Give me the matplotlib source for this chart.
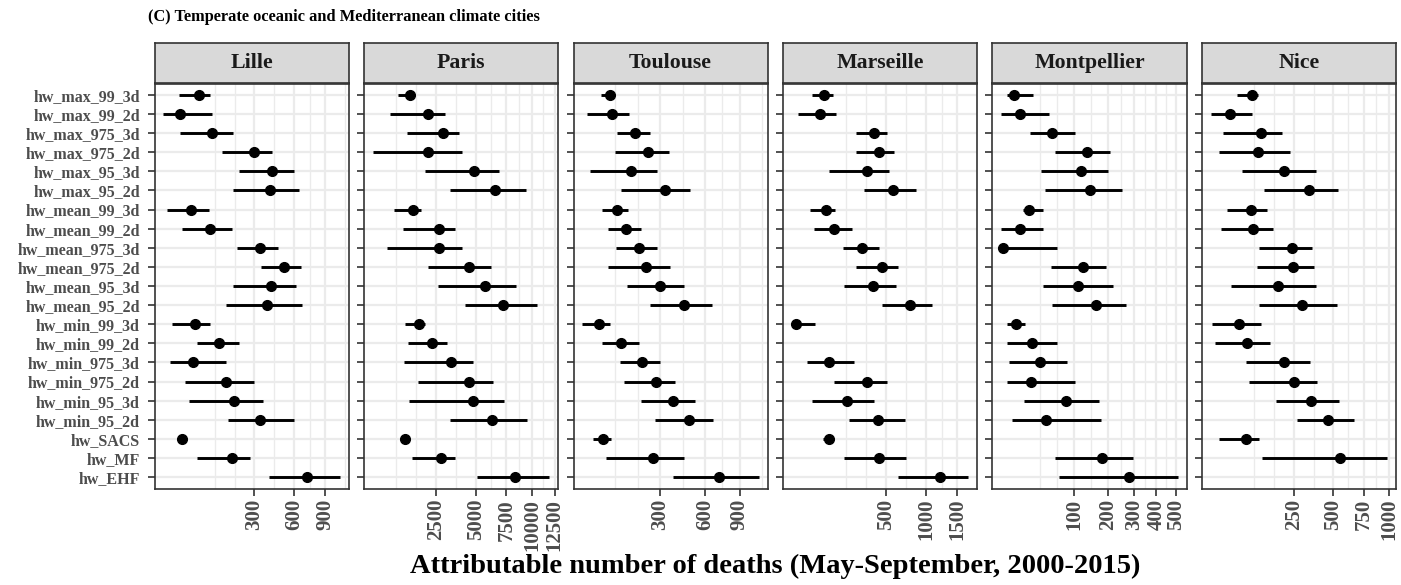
import numpy as np
import matplotlib.pyplot as plt

indicators = ['hw_max_99_3d', 'hw_max_99_2d', 'hw_max_975_3d', 'hw_max_975_2d',
              'hw_max_95_3d', 'hw_max_95_2d', 'hw_mean_99_3d', 'hw_mean_99_2d',
              'hw_mean_975_3d', 'hw_mean_975_2d', 'hw_mean_95_3d', 'hw_mean_95_2d',
              'hw_min_99_3d', 'hw_min_99_2d', 'hw_min_975_3d', 'hw_min_975_2d',
              'hw_min_95_3d', 'hw_min_95_2d', 'hw_SACS', 'hw_MF', 'hw_EHF']
cities = ['Lille', 'Paris', 'Toulouse', 'Marseille', 'Montpellier', 'Nice']
nan = float('nan')

# estimates and 95% CI
lille_est = [54, 15, 93, 294, 417, 402, 34, 86, 336, 509, 412, 381,
             45, 121, 40, 150, 186, 338, 18, 176, 711]
lille_lo = [14.5, 0.9, 15, 132, 211, 183, 2.8, 18, 201, 340, 183, 149,
            6.2, 48, 4.9, 24, 30, 156, 13, 48, 400]
lille_hi = [86, 93, 181, 417, 593, 643, 84, 176, 462, 655, 610, 670,
            87, 209, 147, 294, 356, 598, 23, 272, 1064]

paris_est = [1347, 2103, 2876, 2103, 4857, 6547, 1437, 2640, 2640, 4549, 5710, 7206,
             1711, 2297, 3358, 4525, 4809, 6298, 1163, 2784, 8269]
paris_lo = [929, 685, 1211, 295, 1978, 3258, 788, 1094, 597, 2103, 2622, 4251,
            1152, 1272, 1117, 1654, 1309, 3298, 1073, 1411, 5125]
paris_hi = [1503, 2988, 3812, 4051, 6830, 9405, 1798, 3602, 4051, 6189, 8395, 10507,
            1963, 3083, 4809, 6381, 7294, 9438, 1255, 3602, 11858]

toulouse_est = [86, 93, 176, 234, 162, 330, 109, 139, 195, 227, 298, 445,
                58, 124, 209, 276, 378, 480, 66, 264, 716]
toulouse_lo = [61, 31, 110, 101, 37, 123, 64, 80, 105, 80, 143, 245,
               24, 64, 118, 135, 204, 273, 43, 75, 378]
toulouse_hi = [98, 154, 244, 348, 285, 487, 150, 204, 284, 354, 443, 651,
               87, 193, 298, 389, 523, 660, 89, 443, 1091]

marseille_est = [67, 50, 388, 428, 325, 570, 72, 110, 282, 457, 379, 780,
                 2.5, nan, 87, 322, 179, 418, 84, 434, 1209]
marseille_lo = [28, 4.4, 236, 236, 86, 300, 25, 34, 155, 240, 159, 457,
                0.5, nan, 18, 108, 28, 193, 62, 161, 634]
marseille_hi = [103, 118, 514, 589, 535, 849, 115, 213, 431, 634, 607, 1081,
                37, nan, 226, 514, 388, 713, 102, 729, 1701]

montpellier_est = [7.2, 12, 54, 135, 117, 142, 20.6, 11.5, 1.9, 123, 110, 160,
                   8.4, 23.7, 34.7, 22.5, 82, 43, nan, 180, 279]
montpellier_lo = [3.2, 1.3, 21, 59, 35, 41, 14.7, 1.3, 1.5, 52, 39, 54,
                  3.2, 3.3, 4.3, 3.2, 15.4, 6.2, nan, 59, 66]
montpellier_hi = [25, 48, 103, 208, 200, 250, 38, 38, 62, 191, 216, 267,
                  16.4, 63, 83, 102, 170, 176, nan, 293, 511]

nice_est = [78, 27, 107, 98, 200, 333, 77, 83, 243, 248, 176, 297,
            45, 65, 202, 253, 351, 464, 62, 553, nan]
nice_lo = [41, 4.2, 16.6, 11.7, 53, 119, 22, 14, 101, 94, 29, 101,
           5.4, 7.6, 61, 70, 165, 268, 11.7, 112, nan]
nice_hi = [96, 80, 194, 231, 383, 538, 129, 151, 353, 370, 383, 525,
           107, 140, 339, 389, 543, 665, 101, 979, nan]

city_ticks = [[300, 600, 900],
              [2500, 5000, 7500, 10000, 12500],
              [300, 600, 900],
              [500, 1000, 1500],
              [100, 200, 300, 400, 500],
              [250, 500, 750, 1000]]

est_all = [lille_est, paris_est, toulouse_est, marseille_est, montpellier_est, nice_est]
lo_all = [lille_lo, paris_lo, toulouse_lo, marseille_lo, montpellier_lo, nice_lo]
hi_all = [lille_hi, paris_hi, toulouse_hi, marseille_hi, montpellier_hi, nice_hi]


def fwd(x):
    x = np.asarray(x, dtype=float)
    return np.sign(x) * np.sqrt(np.abs(x))


def inv(y):
    y = np.asarray(y, dtype=float)
    return np.sign(y) * y ** 2


def gg_minor(major, lims):
    # ggplot2 style minor breaks, in sqrt space
    b = list(fwd(major))
    bd = b[1] - b[0]
    if lims[0] < b[0]:
        b = [b[0] - bd] + b
    if lims[1] > b[-1]:
        b = b + [b[-1] + bd]
    out = []
    for a, c in zip(b[:-1], b[1:]):
        out += [a, (a + c) / 2]
    out.append(b[-1])
    out = [v for v in out if lims[0] <= v <= lims[1]]
    return inv(out)


W, H = 1401, 585
fig = plt.figure(figsize=(W / 100, H / 100), dpi=100)
serif = 'Liberation Serif'
grid_c = '#EBEBEB'
edge_c = '#333333'

panel_left = [154.5, 364, 573.5, 783, 992.5, 1202]
pw = 194
top, bottom = 83.5, 488.5
strip_top = 43
yy = np.arange(len(indicators))

for i, city in enumerate(cities):
    l = panel_left[i]
    ax = fig.add_axes([l / W, 1 - bottom / H, pw / W, (bottom - top) / H])
    ax.set_xscale('function', functions=(fwd, inv))
    est = np.array(est_all[i], dtype=float)
    lo = np.array(lo_all[i], dtype=float)
    hi = np.array(hi_all[i], dtype=float)
    ax.hlines(yy, lo, hi, color='black', lw=2.1, zorder=3)
    ax.plot(est, yy, 'o', ms=7, color='black', zorder=4)

    s = fwd(np.concatenate([est, lo, hi]))
    s = s[~np.isnan(s)]
    pad = 0.05 * (s.max() - s.min())
    lims = (s.min() - pad, s.max() + pad)

    ax.set_xticks(city_ticks[i])
    ax.set_xticklabels([str(t) for t in city_ticks[i]], rotation=90,
                       fontfamily=serif, fontweight='bold', fontsize=15, color='#4D4D4D')
    ax.set_xticks(gg_minor(city_ticks[i], lims), minor=True)
    ax.set_yticks(yy)
    if i == 0:
        ax.set_yticklabels(indicators, fontfamily=serif, fontweight='bold',
                           fontsize=11.5, color='#4D4D4D')
        ax.tick_params(axis='y', pad=5.5)
    else:
        ax.set_yticklabels([])
        ax.tick_params(axis='y', length=0)
    # limits set after the ticks so they are not widened
    ax.set_xlim(float(inv(lims[0])), float(inv(lims[1])))
    ax.set_ylim(len(indicators) - 0.4, -0.6)

    ax.grid(which='major', color=grid_c, lw=1.6, zorder=0)
    ax.grid(which='minor', axis='x', color=grid_c, lw=1.0, zorder=0)
    ax.set_axisbelow(True)
    ax.tick_params(which='major', direction='out', length=5, width=1.2, color=edge_c)
    ax.tick_params(axis='x', pad=2.5)
    ax.tick_params(which='minor', length=0)
    for sp in ax.spines.values():
        sp.set_color(edge_c)
        sp.set_linewidth(1.2)

    # facet strip
    sax = fig.add_axes([l / W, 1 - top / H, pw / W, (top - strip_top) / H])
    sax.set_facecolor('#D9D9D9')
    sax.set_xticks([])
    sax.set_yticks([])
    for sp in sax.spines.values():
        sp.set_color(edge_c)
        sp.set_linewidth(1.2)
    sax.text(0.5, 0.5, city, ha='center', va='center', transform=sax.transAxes,
             fontfamily=serif, fontweight='bold', fontsize=15.7, color='#1A1A1A')

fig.text(148 / W, 1 - 17 / H, '(C) Temperate oceanic and Mediterranean climate cities',
         ha='left', va='center', fontfamily=serif, fontweight='bold', fontsize=11.8)
fig.text((154.5 + 1396) / 2 / W, 1 - 566 / H,
         'Attributable number of deaths (May-September, 2000-2015)',
         ha='center', va='center', fontfamily=serif, fontweight='bold', fontsize=20.5)

fig.savefig('out.png', dpi=100)
